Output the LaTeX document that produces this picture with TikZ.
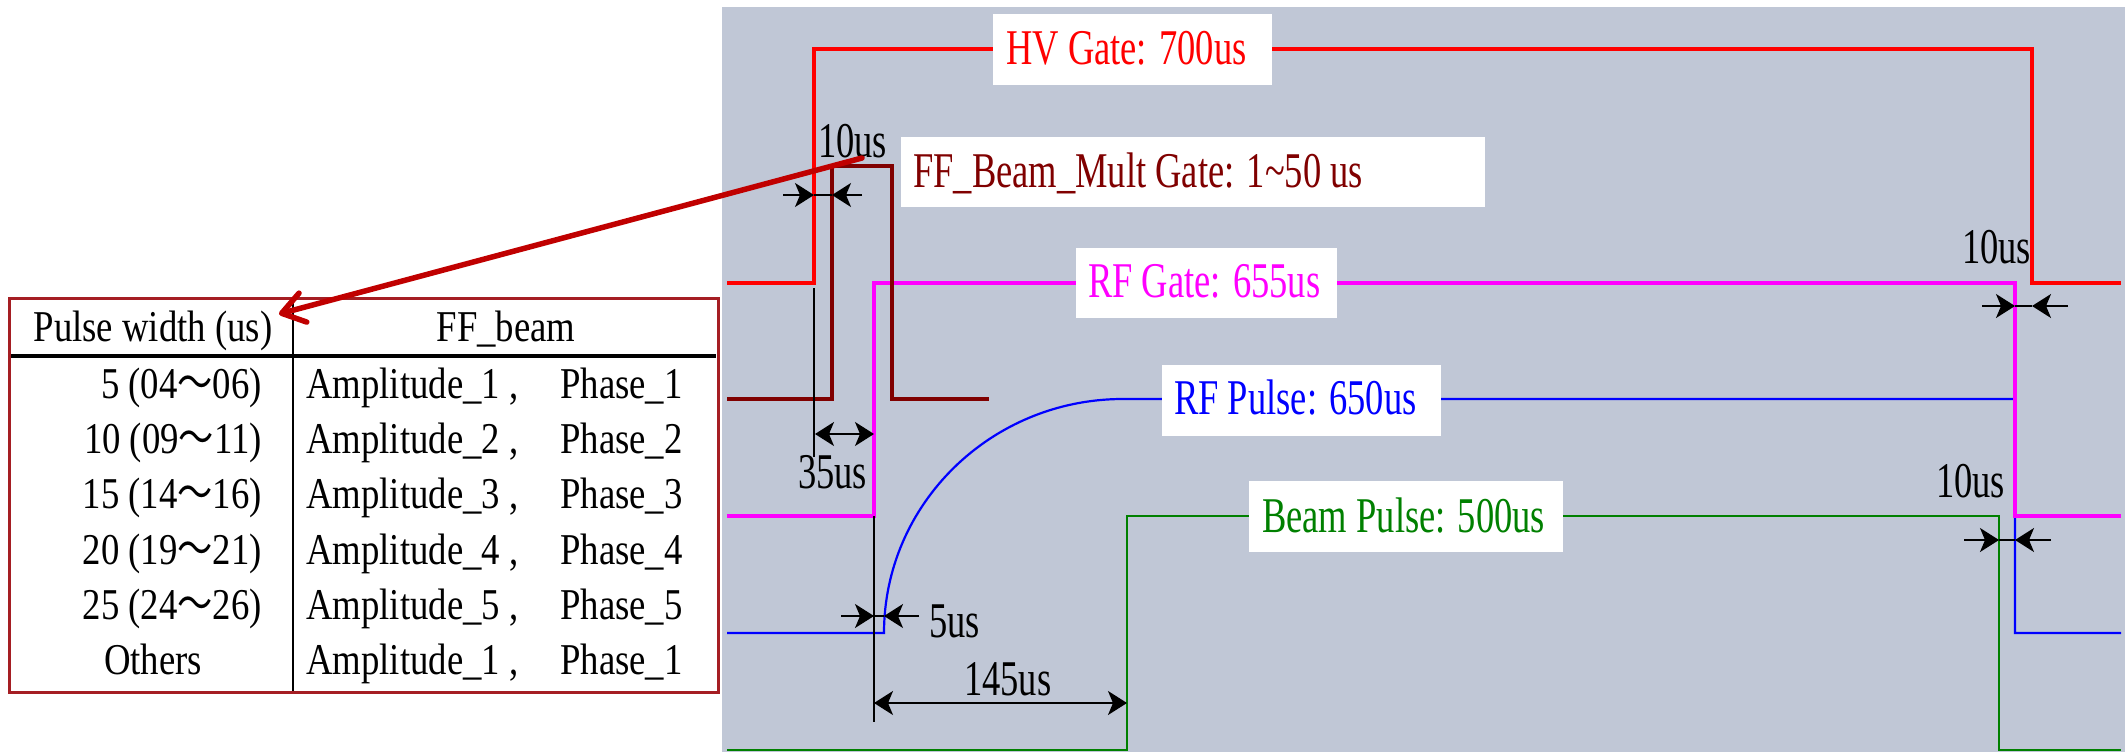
\documentclass[tikz,border=0pt]{standalone}
\usepackage{fontspec}
\setmainfont{Liberation Serif}
\newfontfamily\lblfont[FakeStretch=0.73]{Liberation Serif}
\newfontfamily\tabfont[FakeStretch=0.835]{Liberation Serif}
\newfontfamily\tilfont[FakeStretch=0.8]{Noto Sans CJK SC}
\usetikzlibrary{arrows.meta}
\newcommand{\wtil}{{\tilfont ～}}
\definecolor{bggray}{RGB}{192,199,214}
\definecolor{ffred}{RGB}{128,0,0}
\definecolor{tabred}{RGB}{165,30,35}
\definecolor{arrred}{RGB}{192,0,0}
\definecolor{bgreen}{RGB}{0,128,0}
\definecolor{mag}{RGB}{255,0,255}
\tikzset{
  lbl/.style={inner sep=0pt, anchor=base west, font=\lblfont\fontsize{50}{60}\selectfont},
  tabtxt/.style={inner sep=0pt, font=\tabfont\fontsize{44}{52}\selectfont},
  wbox/.style={fill=white, draw=none, inner sep=0pt},
  dimline/.style={black, line width=1.7pt},
  dimtip/.style={dimline, -{Stealth[length=19pt,width=24pt,inset=5pt]}},
  dimboth/.style={dimline, {Stealth[length=19pt,width=24pt,inset=5pt]}-{Stealth[length=19pt,width=24pt,inset=5pt]}},
  extline/.style={black, line width=1.7pt},
}
\begin{document}
\begin{tikzpicture}[x=1pt,y=-1pt]
\useasboundingbox (0,0) rectangle (2125,752);
% background panel
\fill[bggray] (722,7) rectangle (2125,752);

% ---------- signals ----------
% RF pulse (blue)
\draw[blue, line width=2.2pt] (727,633) -- (884,633)
  .. controls (884,504) and (991,399) .. (1123,399) -- (2015,399) -- (2015,633) -- (2121,633);
% Beam pulse (green)
\draw[bgreen, line width=2.2pt] (727,750) -- (1127,750) -- (1127,516) -- (1999,516) -- (1999,750) -- (2121,750);
% RF gate (magenta)
\draw[mag, line width=3.3pt] (727,516) -- (874,516) -- (874,283) -- (2015,283) -- (2015,516) -- (2121,516);
% HV gate (red)
\draw[red, line width=3.3pt] (727,283) -- (814,283) -- (814,49) -- (2032,49) -- (2032,283) -- (2121,283);
% FF beam mult gate (dark red)
\draw[ffred, line width=3.2pt] (727,399) -- (832,399) -- (832,166) -- (892,166) -- (892,399) -- (989,399);

% ---------- label boxes ----------
\node[wbox, minimum width=279pt, minimum height=71pt] (hvbox) at (1132.5,49.5) {};
\node[lbl, text=red] (hvtxt) at (1006,64) {HV Gate: 700us};
\node[wbox, minimum width=584pt, minimum height=70pt] (ffbox) at (1193,172) {};
\node[lbl, text=ffred] (fftxt) at (913,187) {FF\_Beam\_Mult Gate: 1\textasciitilde 50 us};
\node[wbox, minimum width=261pt, minimum height=70pt] (rfgbox) at (1206.5,283) {};
\node[lbl, text=mag] (rfgtxt) at (1088,297) {RF Gate: 655us};
\node[wbox, minimum width=279pt, minimum height=71pt] (rfpbox) at (1301.5,400.5) {};
\node[lbl, text=blue] (rfptxt) at (1174,414) {RF Pulse: 650us};
\node[wbox, minimum width=314pt, minimum height=71pt] (bpbox) at (1406,516.5) {};
\node[lbl, text=bgreen] (bptxt) at (1262,532) {Beam Pulse: 500us};

% ---------- extension lines ----------
\draw[extline] (814,288) -- (814,457);
\draw[extline] (874,516) -- (874,722);

% ---------- dimensions ----------
% 10us (left)
\draw[dimline] (814,195) -- (832,195);
\draw[dimtip] (783,195) -- (814,195);
\draw[dimtip] (862,195) -- (832,195);
\node[lbl] (d10a) at (818,157) {10us};
% 35us
\draw[dimboth] (815,434) -- (874,434);
\node[lbl] (d35) at (798,488) {35us};
% 5us
\draw[dimline] (874,616) -- (884,616);
\draw[dimtip] (841,616) -- (874,616);
\draw[dimtip] (919,616) -- (884,616);
\node[lbl] (d5) at (929,637) {5us};
% 145us
\draw[dimboth] (874,703) -- (1127,703);
\node[lbl] (d145) at (964,695) {145us};
% 10us (right, top)
\draw[dimline] (2015,306) -- (2032,306);
\draw[dimtip] (1982,306) -- (2015,306);
\draw[dimtip] (2068,306) -- (2032,306);
\node[lbl] (d10b) at (1962,263) {10us};
% 10us (right, lower)
\draw[dimline] (1999,540) -- (2015,540);
\draw[dimtip] (1964,540) -- (1999,540);
\draw[dimtip] (2051,540) -- (2015,540);
\node[lbl] (d10c) at (1936,497) {10us};

% ---------- table ----------
\fill[white] (9,298) rectangle (718,692);
\draw[black, line width=3.5pt] (9,356) -- (716,356);
\draw[black, line width=2pt] (293,298) -- (293,692);
\draw[tabred, line width=3pt] (9,298) rectangle (718,692);
\node[tabtxt, anchor=base] (hdrL) at (153,341) {Pulse width (us)};
\node[tabtxt, anchor=base] (hdrR) at (506,341) {FF\_beam};
\node[tabtxt, anchor=base east] (r1) at (262,398) {5 (04\wtil06)};
\node[tabtxt, anchor=base east] (r2) at (262,453) {10 (09\wtil11)};
\node[tabtxt, anchor=base east] (r3) at (262,508.5) {15 (14\wtil16)};
\node[tabtxt, anchor=base east] (r4) at (262,564) {20 (19\wtil21)};
\node[tabtxt, anchor=base east] (r5) at (262,619) {25 (24\wtil26)};
\node[tabtxt, anchor=base] (r6) at (153,674) {Others};
\foreach \y/\k [count=\i] in {398/1,453/2,508.5/3,564/4,619/5,674/1}{
  \node[tabtxt, anchor=base west] (a\i) at (306,\y) {Amplitude\_\k\ ,};
  \node[tabtxt, anchor=base west] (p\i) at (560,\y) {Phase\_\k};
}

% ---------- pointer arrow ----------
\coordinate (ffpt) at (862,158);
\coordinate (hdrtip) at (279,314);
\draw[arrred, line width=5.5pt, line cap=round, line join=round,
  -{Straight Barb[length=22pt,width=30pt,line join=round,line cap=round]}] (ffpt) -- (hdrtip);
\end{tikzpicture}
\end{document}
